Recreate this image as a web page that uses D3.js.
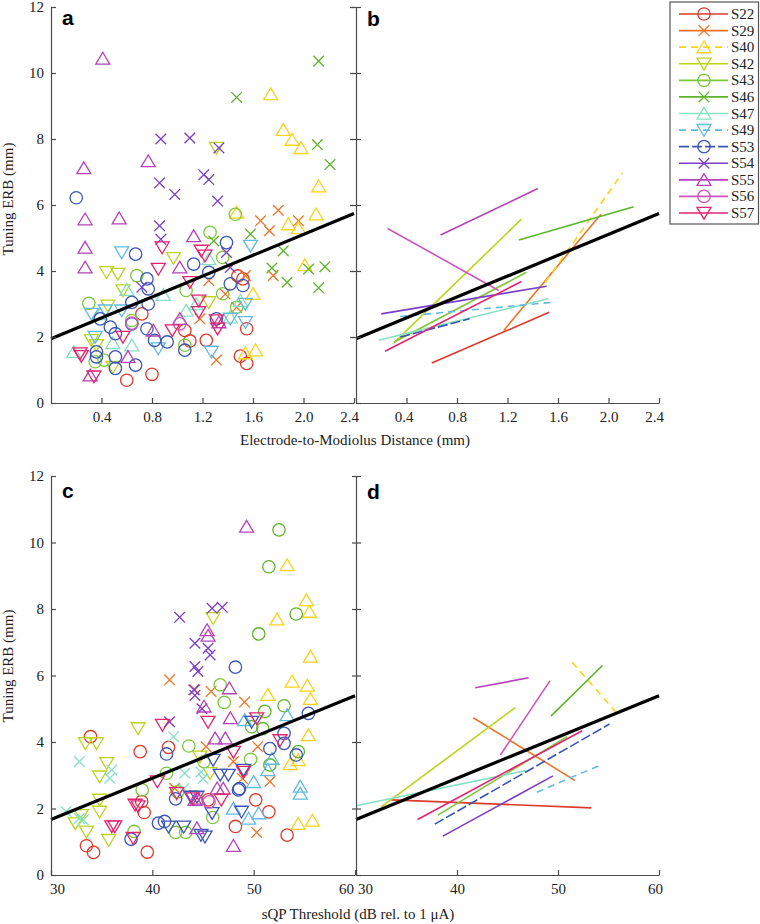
<!DOCTYPE html>
<html><head><meta charset="utf-8">
<script src="https://cdn.jsdelivr.net/npm/d3@7"></script>
<style>
body{margin:0;background:#fff}
.serif{font-family:"Liberation Serif","Times New Roman",Tinos,serif;}
</style>
</head><body>
<svg id="chart" width="760" height="924"></svg>
<script>
// ---------- DATA ----------
const subjects = ["S22","S29","S40","S42","S43","S46","S47","S49","S53","S54","S55","S56","S57"];
const colors   = ["#dd3a2c","#ef7424","#f7d31a","#bcd41c","#7dc83a","#5db52a","#86e0c4","#62badf","#3b55b5","#7a3fc6","#b443b8","#cc55be","#e2236f"];
const legendMarkers = ["o","x","^","v","o","x","^","v","o","x","^","o","v"];
const lineDash = [null,null,"7,5",null,null,null,null,"7,5","10,3",null,null,null,null];

const xTicksDist = [0.4,0.8,1.2,1.6,2.0,2.4];
const xTicksThr  = [30,40,50,60];
const yTicks     = [0,2,4,6,8,10,12];

// group fits (black lines)
const fitDistX = [0, 2.4], fitDistY = [1.95, 5.74];
const fitThrX  = [30, 60], fitThrY  = [1.67, 5.39];

// panel a: [distance mm, tuning ERB mm]
const distS22 = [[0.60,0.69],[0.80,0.87],[0.72,2.70],[1.06,2.2],[1.10,1.88],[1.23,1.9],[1.55,2.25],[1.50,1.42],[1.55,1.20],[1.52,3.76],[1.48,3.85]];
const distS29 = [[1.31,1.30],[1.80,5.84],[1.66,5.52],[1.73,5.22],[1.96,5.52],[1.76,3.86],[1.54,3.86],[1.18,2.55],[1.25,3.71],[1.47,2.9],[1.38,3.3]];
const distS40 = [[1.74,9.36],[1.84,8.28],[1.91,7.98],[1.98,7.73],[2.12,6.57],[2.10,5.72],[1.88,5.42],[1.96,5.30],[2.01,4.18],[1.62,1.60],[1.54,1.51],[1.60,3.31],[1.47,5.77]];
const distS42 = [[1.31,7.73],[0.97,4.39],[0.44,3.96],[0.53,3.91],[0.57,3.41],[0.45,2.95],[0.32,1.90],[0.49,1.09],[1.25,3.05],[0.36,1.75]];
const distS43 = [[1.46,5.72],[1.26,5.17],[1.36,4.41],[1.07,3.41],[1.36,3.31],[0.68,3.86],[0.30,3.02],[0.64,2.5],[1.06,1.75],[0.35,1.25],[1.47,2.9],[0.42,1.3]];
const distS46 = [[2.12,10.36],[1.47,9.26],[2.11,7.83],[2.21,7.23],[1.58,5.12],[1.84,4.61],[1.75,4.09],[1.87,3.66],[2.04,4.06],[2.17,4.13],[2.12,3.49],[1.29,4.91]];
const distS47 = [[0.18,1.55],[0.60,3.43],[0.89,3.28],[1.07,2.8],[0.49,1.82],[0.64,1.75],[1.25,4.36],[1.42,2.6],[0.39,2.7],[1.15,3.0],[1.50,3.1]];
const distS49 = [[0.56,4.56],[1.58,4.76],[0.32,2.70],[0.43,2.80],[0.85,1.65],[0.35,2.0],[1.27,1.55],[1.54,3.0],[1.42,2.55],[1.54,2.45],[0.56,2.8]];
const distS53 = [[0.20,6.22],[0.67,4.51],[0.76,3.76],[0.77,3.46],[0.77,3.0],[0.64,3.05],[1.13,4.21],[1.25,3.96],[1.39,4.86],[1.42,3.61],[1.52,3.56],[0.39,2.55],[0.47,2.3],[0.51,2.1],[0.76,2.25],[0.82,1.9],[0.92,1.85],[1.06,1.6],[0.36,1.55],[0.36,1.4],[0.51,1.4],[0.51,1.05],[0.67,1.15],[0.64,2.4],[1.31,2.55]];
const distS54 = [[0.87,8.0],[1.10,8.03],[1.33,7.73],[0.86,6.67],[0.98,6.32],[1.21,6.92],[1.25,6.77],[1.32,6.12],[0.86,5.37],[0.87,4.96],[1.39,4.56],[1.42,4.11],[0.72,3.51]];
const distS55 = [[0.41,10.44],[0.26,7.12],[0.77,7.33],[0.27,5.57],[0.54,5.6],[0.27,4.71],[0.27,4.11],[1.13,5.06],[1.02,4.11],[1.02,2.55],[0.81,2.2],[0.61,1.4],[0.31,0.84],[1.33,2.45]];
const distS56 = [[0.64,2.42],[1.02,2.4]];
const distS57 = [[0.88,4.71],[0.85,4.06],[1.19,4.61],[1.22,4.46],[1.10,3.66],[1.17,3.1],[1.17,2.75],[0.96,2.2],[1.31,2.5],[1.32,2.25],[0.57,2.0],[0.24,1.42],[0.34,0.8],[0.23,1.5]];

// panel c: [sQP threshold dB, tuning ERB mm]
const thrS22 = [[33.9,4.16],[33.5,0.88],[34.2,0.68],[38.8,3.71],[38.95,2.21],[39.2,1.88],[39.5,0.69],[41.6,3.84],[45.5,2.26],[48.2,1.46],[50.2,2.26],[51.5,1.90],[53.3,1.20]];
const thrS29 = [[41.7,5.87],[44.2,5.57],[45.8,5.52],[49.1,5.2],[45.3,3.86],[50.4,3.86],[51.6,2.81],[50.3,1.28],[42.2,2.61],[48.0,3.41],[48.9,2.9]];
const thrS40 = [[53.3,9.32],[55.2,8.27],[55.5,7.92],[52.3,7.69],[55.6,6.57],[53.8,5.82],[55.3,5.70],[55.6,5.30],[51.4,5.42],[55.4,4.21],[53.6,3.34],[54.4,3.46],[54.4,1.54],[55.8,1.64]];
const thrS42 = [[33.4,3.96],[34.5,3.96],[35.5,3.36],[34.8,2.96],[34.8,2.26],[34.8,1.90],[33.0,1.80],[32.4,1.55],[33.5,1.30],[35.7,1.05],[38.6,4.41],[46.0,7.72],[44.7,3.56],[45.7,3.06]];
const thrS43 = [[46.7,5.72],[47.1,5.19],[43.6,3.88],[49.7,3.48],[41.4,3.06],[39.0,2.56],[38.2,1.31],[42.3,1.28],[43.3,1.28],[45.96,1.73],[45.1,3.41],[42.5,2.5]];
const thrS46 = [[52.5,10.38],[51.5,9.27],[54.2,7.85],[50.5,7.25],[51.1,4.92],[53.0,5.09],[54.4,3.71],[49.8,4.46],[51.6,3.31],[50.9,4.4]];
const thrS47 = [[32.8,3.41],[36.0,3.16],[35.8,2.91],[42.1,4.16],[43.2,3.06],[33.2,1.66],[31.5,1.91],[32.8,1.7],[43.1,2.6],[44.8,3.1],[45.0,2.9]];
const thrS49 = [[53.3,4.81],[51.4,3.16],[54.6,2.66],[54.6,2.45],[50.5,1.86],[49.5,1.7],[48.0,2.0],[49.1,4.66],[50.0,2.8],[51.8,3.5]];
const thrS53 = [[48.2,6.25],[41.4,3.64],[55.4,4.86],[53.0,4.26],[53.0,3.96],[51.6,3.8],[54.2,3.61],[48.5,2.56],[42.3,2.29],[40.6,1.56],[41.2,1.61],[37.9,1.08],[48.6,2.6]];
const thrS53v = [[46.7,3.01],[47.5,3.01],[49.0,3.16],[46.0,3.46],[49.8,4.6],[44.4,2.35],[43.8,2.35],[45.9,1.86],[48.8,1.90],[45.2,1.15],[44.8,1.2],[43.1,1.45],[41.6,1.45]];
const thrS54 = [[42.7,7.75],[45.9,8.02],[46.9,8.05],[44.2,6.97],[45.5,6.82],[45.7,6.62],[44.2,6.27],[44.5,6.12],[44.1,5.57],[44.2,5.4],[44.9,5.0],[41.7,4.61]];
const thrS55 = [[49.3,10.48],[45.4,7.37],[45.5,7.2],[47.6,5.62],[47.7,4.72],[46.2,4.11],[47.2,4.11],[46.4,2.61],[47.0,2.6],[44.4,1.41],[48.0,0.88],[44.2,2.26],[45.1,5.07],[44.5,2.3]];
const thrS56 = [[45.6,2.2]];
const thrS57 = [[41.0,4.51],[40.5,2.81],[38.3,2.11],[38.6,2.06],[36.3,1.46],[36.0,1.46],[38.1,1.11],[45.5,4.6],[48.0,3.7],[52.6,4.05],[50.3,4.71],[49.0,3.1],[42.4,2.46],[46.8,2.26],[44.0,2.3]];

// panel b / d: per-subject fitted lines [subject, x1, y1, x2, y2]
const distLines = [
  ["S22",0.60,1.21,1.53,2.75],["S29",1.17,2.20,1.94,5.72],["S40",1.50,3.66,2.11,6.97],
  ["S42",0.30,1.82,1.31,5.57],["S43",0.30,1.84,1.35,3.96],["S46",1.29,4.94,2.20,5.95],
  ["S47",0.18,1.90,1.52,3.16],["S49",0.35,2.62,1.55,3.05],["S53",0.35,2.00,0.90,2.55],
  ["S54",0.20,2.70,1.51,3.54],["S55",0.67,5.09,1.44,6.50],["S56",0.25,5.29,1.13,3.41],
  ["S57",0.23,1.57,1.31,3.68]];
const thrLines = [
  ["S22",33.5,2.26,53.3,2.02],["S29",41.6,4.73,51.7,2.84],["S40",51.4,6.40,55.7,4.91],
  ["S42",32.5,2.05,45.8,5.04],["S43",38.1,1.80,50.9,4.16],["S46",49.3,4.78,54.4,6.30],
  ["S47",30.0,2.08,46.8,3.14],["S49",47.9,2.49,54.0,3.28],["S53",37.8,1.53,55.1,4.54],
  ["S54",38.6,1.17,49.5,2.98],["S55",41.8,5.63,47.1,5.93],["S56",44.3,3.61,49.2,5.84],
  ["S57",36.1,1.67,52.4,4.34]];

const groupsA = [["S22","o",distS22],["S29","x",distS29],["S40","^",distS40],["S42","v",distS42],["S43","o",distS43],["S46","x",distS46],["S47","^",distS47],["S49","v",distS49],["S53","o",distS53],["S54","x",distS54],["S55","^",distS55],["S56","o",distS56],["S57","v",distS57]];
const groupsC = [["S22","o",thrS22],["S29","x",thrS29],["S40","^",thrS40],["S42","v",thrS42],["S43","o",thrS43],["S46","o",thrS46],["S47","x",thrS47],["S49","^",thrS49],["S53","o",thrS53],["S53","v",thrS53v],["S54","x",thrS54],["S55","^",thrS55],["S56","o",thrS56],["S57","v",thrS57]];

// ---------- DRAWING ----------
const colorOf = d3.scaleOrdinal().domain(subjects).range(colors);
const dashOf = s => lineDash[subjects.indexOf(s)];
const svg = d3.select("#chart");
const axisCol = "#4a4a4a";

function markerPath(m){
  if (m === "x") return "M-5.3,-5.3L5.3,5.3M-5.3,5.3L5.3,-5.3";
  if (m === "^") return "M0,-6.2L7,5.6L-7,5.6Z";
  if (m === "v") return "M0,6.2L7,-5.6L-7,-5.6Z";
  return null;
}
function drawMarker(g, m, cx, cy, col){
  if (m === "o") {
    g.append("circle").attr("cx",cx).attr("cy",cy).attr("r",6.2)
     .attr("fill","none").attr("stroke",col).attr("stroke-width",1.3);
  } else {
    g.append("path").attr("d",markerPath(m)).attr("transform",`translate(${cx},${cy})`)
     .attr("fill","none").attr("stroke",col).attr("stroke-width",1.3);
  }
}

const yTop = d3.scaleLinear().domain([0,12]).range([403,7]);
const yBot = d3.scaleLinear().domain([0,12]).range([875,476]);
const xA = d3.scaleLinear().domain([0,2.4]).range([51,354]);
const xB = d3.scaleLinear().domain([0,2.4]).range([356,659]);
const xC = d3.scaleLinear().domain([30,60]).range([51,355]);
const xD = d3.scaleLinear().domain([30,60]).range([356,659]);

function styleAxis(g){
  g.attr("font-family",null).attr("font-size",null);
  g.selectAll("path,line").attr("stroke",axisCol).attr("stroke-width",1.2);
  g.selectAll("text").attr("class","serif").attr("font-size",15).attr("fill","#222");
}

function drawAxes(x, y, ticksX, labelsY, firstShift, lastShift){
  const yb = y.range()[0];
  const gx = svg.append("g").attr("transform",`translate(0,${yb})`)
    .call(d3.axisBottom(x).tickValues(ticksX).tickSize(-5).tickSizeOuter(0).tickPadding(8)
      .tickFormat(d => (ticksX === xTicksDist ? d3.format(".1f")(d) : d)));
  styleAxis(gx);
  const tx = gx.selectAll(".tick text");
  const n = tx.size();
  tx.each(function(d,i){
    if (i === 0 && firstShift) d3.select(this).attr("dx", firstShift);
    if (i === n-1 && lastShift) d3.select(this).attr("dx", lastShift);
  });
  const xl = x.range()[0];
  const gy = svg.append("g").attr("transform",`translate(${xl},0)`)
    .call(d3.axisLeft(y).tickValues(yTicks).tickSize(-5).tickSizeOuter(0).tickPadding(7)
      .tickFormat(labelsY ? d3.format("d") : ""));
  styleAxis(gy);
  if (!labelsY) {
    const gy2 = svg.append("g").attr("transform",`translate(${xl},0)`)
      .call(d3.axisLeft(y).tickValues(yTicks.slice(1)).tickSize(4).tickSizeOuter(0).tickFormat(""));
    gy2.select(".domain").remove();
    styleAxis(gy2);
  }
}

function drawFit(x, y, fx, fy){
  svg.append("line").attr("x1",x(fx[0])).attr("y1",y(fy[0])).attr("x2",x(fx[1])).attr("y2",y(fy[1]))
    .attr("stroke","#000").attr("stroke-width",3.2);
}

function drawScatter(x, y, groups){
  const g = svg.append("g");
  groups.forEach(([s, m, pts]) => {
    pts.forEach(p => drawMarker(g, m, x(p[0]), y(p[1]), colorOf(s)));
  });
}

function drawLines(x, y, lines){
  const g = svg.append("g");
  lines.forEach(([s,x1,y1,x2,y2]) => {
    g.append("line").attr("x1",x(x1)).attr("y1",y(y1)).attr("x2",x(x2)).attr("y2",y(y2))
      .attr("stroke",colorOf(s)).attr("stroke-width",1.6)
      .attr("stroke-dasharray",dashOf(s));
  });
}

function letter(t, x, y){
  svg.append("text").attr("x",x).attr("y",y).text(t)
    .attr("font-family","'Liberation Sans',Arial,sans-serif").attr("font-weight","bold")
    .attr("font-size",21).attr("fill","#000");
}

function serifText(x, y, t, anchor){
  return svg.append("text").attr("x",x).attr("y",y).attr("text-anchor",anchor||"start")
    .attr("class","serif").attr("font-size",15).attr("fill","#222").text(t);
}

// panel a
drawScatter(xA, yTop, groupsA);
drawFit(xA, yTop, fitDistX, fitDistY);
drawAxes(xA, yTop, xTicksDist, true, 0, -5);
{
  const g = svg.append("g").attr("transform","translate(354,0)")
    .call(d3.axisRight(yTop).tickValues(yTicks).tickSize(-4).tickSizeOuter(0).tickFormat(""));
  g.select(".domain").remove(); styleAxis(g);
}
letter("a", 62, 25);

// panel b
drawLines(xB, yTop, distLines);
drawFit(xB, yTop, fitDistX, fitDistY);
drawAxes(xB, yTop, xTicksDist, false, -3, -5);
letter("b", 367, 26);

// panel c
drawScatter(xC, yBot, groupsC);
drawFit(xC, yBot, fitThrX, fitThrY);
drawAxes(xC, yBot, xTicksThr, true, 6, -9);
letter("c", 62, 498);

// panel d
drawLines(xD, yBot, thrLines);
drawFit(xD, yBot, fitThrX, fitThrY);
drawAxes(xD, yBot, xTicksThr, false, 9, -4);
letter("d", 367, 499);

// axis titles
serifText(355, 445, "Electrode-to-Modiolus Distance (mm)", "middle");
serifText(358, 919, "sQP Threshold (dB rel. to 1 \u03BCA)", "middle");
[199, 666].forEach(cy => {
  svg.append("text").attr("transform",`translate(13,${cy}) rotate(-90)`).attr("text-anchor","middle")
    .attr("class","serif").attr("font-size",15).attr("fill","#222").text("Tuning ERB (mm)");
});

// legend
{
  const lg = svg.append("g");
  lg.append("rect").attr("x",670).attr("y",2).attr("width",88.5).attr("height",222)
    .attr("fill","#fff").attr("stroke","#555").attr("stroke-width",1.2);
  const ly = d3.scaleLinear().domain([0, subjects.length-1]).range([14, 213]);
  subjects.forEach((s,i) => {
    const cy = ly(i);
    lg.append("line").attr("x1",679).attr("x2",728).attr("y1",cy).attr("y2",cy)
      .attr("stroke",colors[i]).attr("stroke-width",1.6).attr("stroke-dasharray",lineDash[i]);
    drawMarker(lg, legendMarkers[i], 704, cy, colors[i]);
    lg.append("text").attr("x",731).attr("y",cy+5).text(s)
      .attr("class","serif").attr("font-size",15).attr("fill","#222");
  });
}
</script>
</body></html>
